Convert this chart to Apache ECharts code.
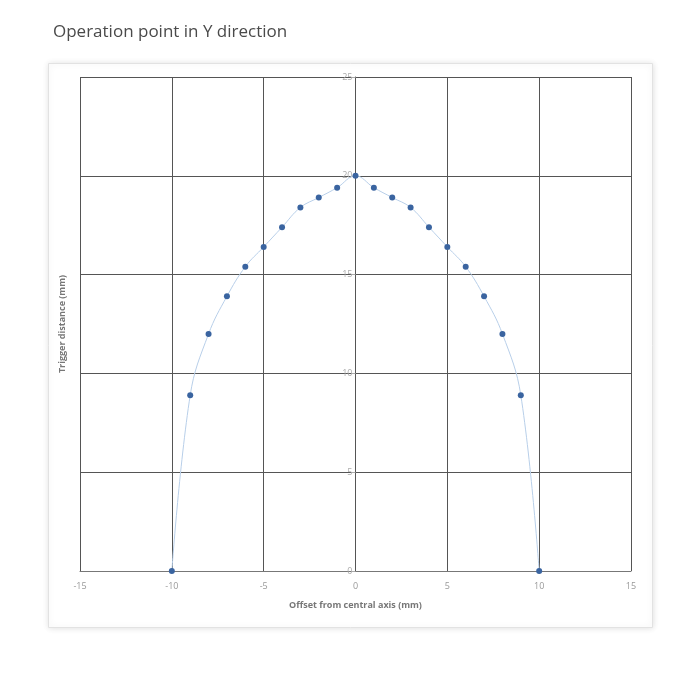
<!DOCTYPE html>
<html>
<head>
<meta charset="utf-8">
<script src="https://cdn.jsdelivr.net/npm/echarts@6/dist/echarts.min.js"></script>
<style>html,body{margin:0;padding:0;background:#fff;}#c{width:700px;height:700px;}</style>
</head>
<body>
<div id="c"></div>
<script>
const titleText = "Operation point in Y direction";
const xName = "Offset from central axis (mm)";
const yName = "Trigger distance (mm)";
const offsets = [-10, -9, -8, -7, -6, -5, -4, -3, -2, -1, 0, 1, 2, 3, 4, 5, 6, 7, 8, 9, 10];
const distances = [0, 8.9, 12, 13.9, 15.4, 16.4, 17.4, 18.4, 18.9, 19.4, 20, 19.4, 18.9, 18.4, 17.4, 16.4, 15.4, 13.9, 12, 8.9, 0];
const xTicks = [-15, 15, 5];
const yTicks = [0, 25, 5];

const data = offsets.map((x, i) => [x, distances[i]]);
const chart = echarts.init(document.getElementById('c'));
chart.setOption({
  animation: false,
  backgroundColor: '#fff',
  title: {
    text: titleText, left: 48, top: 19,
    textStyle: { fontFamily: 'Open Sans', fontSize: 17, fontWeight: 'normal', color: '#4a4a4a' }
  },
  graphic: [
    { type: 'rect', left: 48, top: 63, z: -10,
      shape: { width: 604, height: 564 },
      style: { fill: '#fff', stroke: '#e2e2e2', lineWidth: 1, shadowBlur: 6, shadowColor: 'rgba(0,0,0,0.12)' } },
    { type: 'text', x: 62, y: 324, rotation: Math.PI / 2, z: 10,
      style: { text: yName, fill: '#777', fontFamily: 'Open Sans', fontSize: 9, fontWeight: 'bold', align: 'center', verticalAlign: 'middle' } }
  ],
  grid: { left: 80, right: 69, top: 77, bottom: 129 },
  xAxis: {
    type: 'value', min: xTicks[0], max: xTicks[1], interval: xTicks[2],
    name: xName, nameLocation: 'middle', nameGap: 30,
    nameTextStyle: { color: '#777', fontFamily: 'Open Sans', fontSize: 9, fontWeight: 'bold' },
    axisLine: { show: true, onZero: false, lineStyle: { color: '#777' } },
    axisTick: { show: false },
    axisLabel: { color: '#999', fontFamily: 'Open Sans', fontSize: 9, margin: 11 },
    splitLine: { show: true, lineStyle: { color: '#555', width: 1 } }
  },
  yAxis: {
    type: 'value', min: yTicks[0], max: yTicks[1], interval: yTicks[2],
    offset: -275.5,
    axisLine: { show: true, onZero: false, lineStyle: { color: '#555' } },
    axisTick: { show: true, length: 4, lineStyle: { color: '#aaa' } },
    axisLabel: { color: '#aaa', fontFamily: 'Open Sans', fontSize: 9, margin: 3 },
    splitLine: { show: true, lineStyle: { color: '#555', width: 1 } }
  },
  series: [{
    type: 'line', data: data, smooth: 0.4,
    symbol: 'circle', symbolSize: 6,
    itemStyle: { color: '#3a64a0' },
    lineStyle: { color: '#b8cfe9', width: 1 },
    z: 5
  }]
});
</script>
</body>
</html>
